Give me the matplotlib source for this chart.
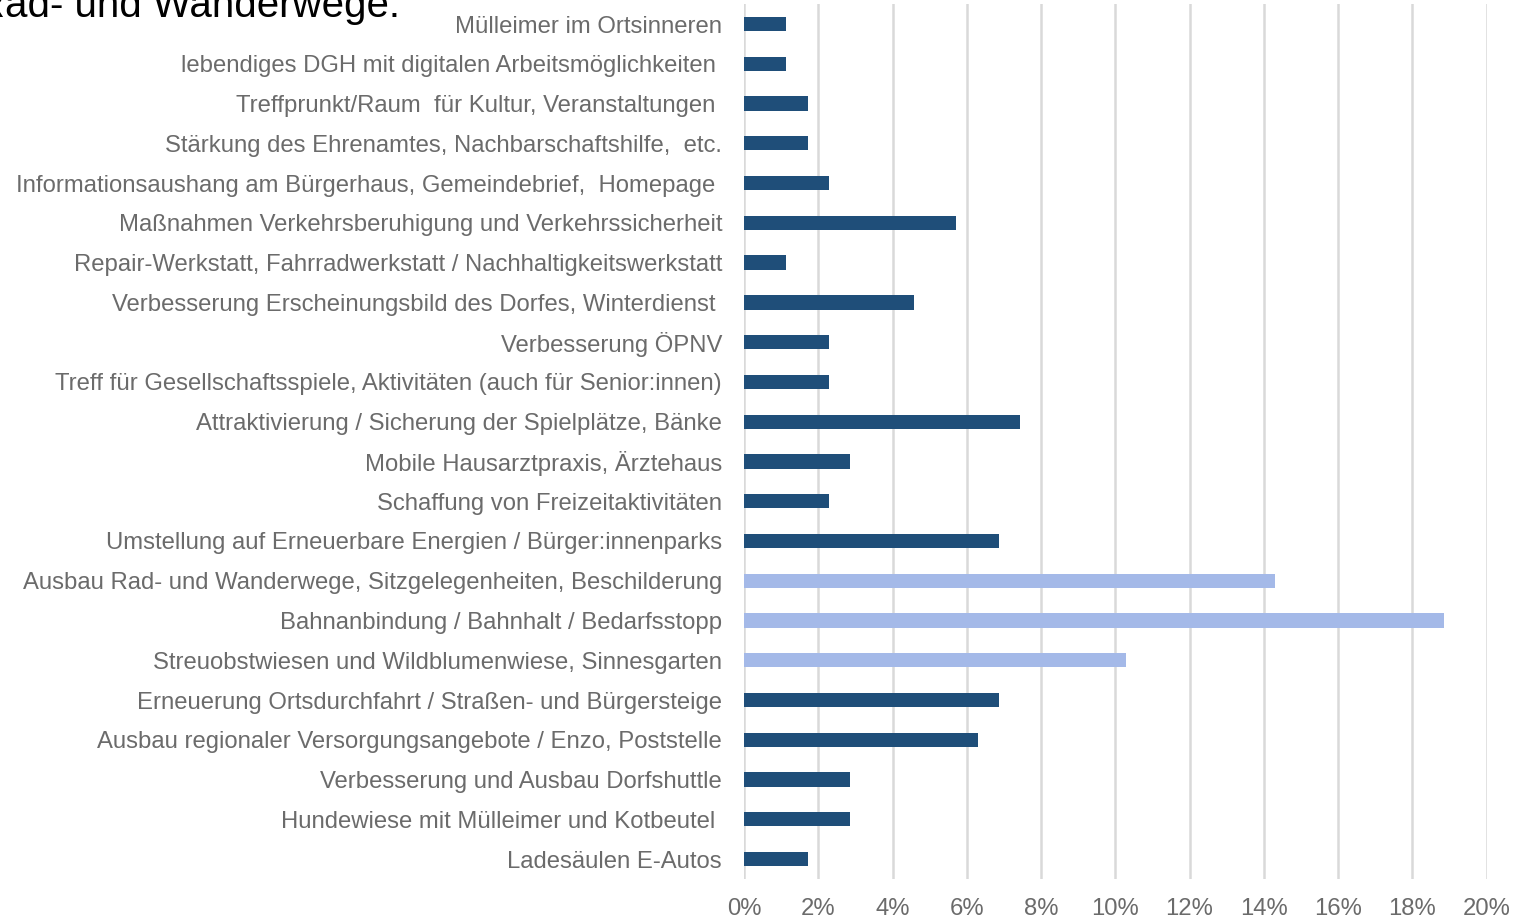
import matplotlib.pyplot as plt
from matplotlib.ticker import PercentFormatter

# Umfrage: Wünsche für das Dorf (Anteil der Nennungen)
categories = [
    "Mülleimer im Ortsinneren",
    "lebendiges DGH mit digitalen Arbeitsmöglichkeiten ",
    "Treffprunkt/Raum  für Kultur, Veranstaltungen ",
    "Stärkung des Ehrenamtes, Nachbarschaftshilfe,  etc.",
    "Informationsaushang am Bürgerhaus, Gemeindebrief,  Homepage ",
    "Maßnahmen Verkehrsberuhigung und Verkehrssicherheit",
    "Repair-Werkstatt, Fahrradwerkstatt / Nachhaltigkeitswerkstatt",
    "Verbesserung Erscheinungsbild des Dorfes, Winterdienst ",
    "Verbesserung ÖPNV",
    "Treff für Gesellschaftsspiele, Aktivitäten (auch für Senior:innen)",
    "Attraktivierung / Sicherung der Spielplätze, Bänke",
    "Mobile Hausarztpraxis, Ärztehaus",
    "Schaffung von Freizeitaktivitäten",
    "Umstellung auf Erneuerbare Energien / Bürger:innenparks",
    "Ausbau Rad- und Wanderwege, Sitzgelegenheiten, Beschilderung",
    "Bahnanbindung / Bahnhalt / Bedarfsstopp",
    "Streuobstwiesen und Wildblumenwiese, Sinnesgarten",
    "Erneuerung Ortsdurchfahrt / Straßen- und Bürgersteige",
    "Ausbau regionaler Versorgungsangebote / Enzo, Poststelle",
    "Verbesserung und Ausbau Dorfshuttle",
    "Hundewiese mit Mülleimer und Kotbeutel ",
    "Ladesäulen E-Autos",
]
shares = [1.14, 1.14, 1.71, 1.71, 2.29, 5.71, 1.14, 4.57, 2.29, 2.29, 7.43,
          2.86, 2.29, 6.86, 14.29, 18.86, 10.29, 6.86, 6.29, 2.86, 2.86, 1.71]
top3 = ["Ausbau Rad- und Wanderwege, Sitzgelegenheiten, Beschilderung",
        "Bahnanbindung / Bahnhalt / Bedarfsstopp",
        "Streuobstwiesen und Wildblumenwiese, Sinnesgarten"]

dark = "#1F4E79"
light = "#A4B9E8"
grey = "#6B6B6B"

plt.rcParams['font.family'] = ['Liberation Sans', 'DejaVu Sans']

fig = plt.figure(figsize=(15.2, 9.18), dpi=100)
ax = fig.add_axes([0.4895, 0.0425, 0.4885, 0.953])

colors = [light if c in top3 else dark for c in categories]
ax.barh(range(len(categories)), shares, height=0.36, color=colors, zorder=3)

ax.set_yticks(range(len(categories)))
ax.set_yticklabels(categories)
ax.set_ylim(len(categories) - 0.5, -0.5)
ax.set_xlim(0, 20)
ax.set_xticks(range(0, 21, 2))
ax.xaxis.set_major_formatter(PercentFormatter(decimals=0))

ax.tick_params(axis='y', length=0, pad=15.8, labelsize=17.2, labelcolor=grey)
ax.tick_params(axis='x', length=0, pad=13.5, labelsize=17.2, labelcolor=grey)
ax.grid(axis='x', color="#D9D9D9", linewidth=1.8, zorder=0)
for s in ax.spines.values():
    s.set_visible(False)

fig.text(400 / 1520, 1 - 17 / 918, "Rad- und Wanderwege.", ha='right',
         va='baseline', fontsize=29, color='black')

fig.savefig("out.png", dpi=100)
